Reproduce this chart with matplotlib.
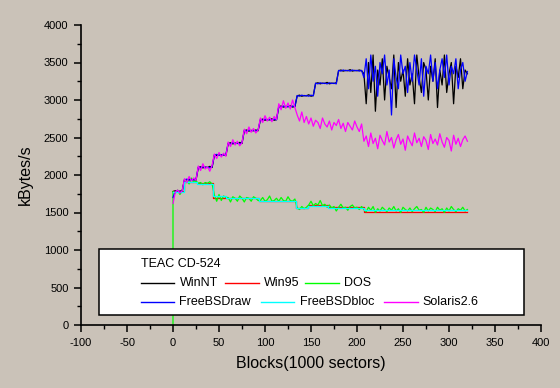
import matplotlib
matplotlib.use("Agg")
import matplotlib.pyplot as plt
from matplotlib.patches import Rectangle
from matplotlib.lines import Line2D
import numpy as np

plt.rcParams['font.family'] = ['Liberation Sans', 'DejaVu Sans']
plt.rcParams['axes.unicode_minus'] = False

BG = '#CAC2B8'
BLOCK_STEP = 2.5  # kBlocks between samples

# throughput in kBytes/s, one sample every 2.5 kBlocks from 0 to 320
winnt = [1780, 1790, 1775, 1785, 1790,
         1940, 1930, 1945, 1935, 1940, 1930,
         2100, 2110, 2095, 2105, 2100, 2115, 2100,
         2270, 2260, 2275, 2265, 2270, 2260,
         2420, 2430, 2415, 2425, 2420, 2435, 2420,
         2590, 2600, 2585, 2595, 2590, 2600, 2590,
         2735, 2745, 2730, 2740, 2735, 2750, 2730, 2740,
         2910, 2920, 2905, 2915, 2910, 2925, 2905, 2915,
         3055, 3065, 3050, 3060, 3055, 3070, 3050, 3060,
         3220, 3230, 3215, 3225, 3220, 3235, 3215, 3225, 3220, 3230,
         3390, 3400, 3385, 3395, 3390, 3405, 3385, 3395, 3390, 3400, 3390,
         3350, 2950, 3500, 3100, 3600, 2850, 3400, 3200, 3550, 3000,
         3450, 3300, 3150, 3600, 2900, 3500, 3250, 3400, 3050, 3550,
         3200, 3350, 2950, 3600, 3300, 3100, 3500, 3400, 3000, 3450,
         3250, 3550, 2900, 3400, 3200, 3600, 3100, 3350, 3500, 2950,
         3450, 3300, 3550, 3150, 3400, 3350]

freebsd_raw = [1700, 1780, 1790, 1775, 1785,
               1935, 1945, 1930, 1940, 1935, 1945,
               2105, 2095, 2110, 2100, 2105, 2095, 2110,
               2265, 2275, 2260, 2270, 2265, 2275,
               2425, 2415, 2430, 2420, 2425, 2415, 2430,
               2595, 2585, 2600, 2590, 2595, 2585, 2600,
               2740, 2730, 2745, 2735, 2740, 2730, 2745, 2735,
               2915, 2905, 2920, 2910, 2915, 2905, 2920, 2910,
               3060, 3050, 3065, 3055, 3060, 3050, 3065, 3055,
               3225, 3215, 3230, 3220, 3225, 3215, 3230, 3220, 3225, 3215,
               3395, 3385, 3400, 3390, 3395, 3385, 3400, 3390, 3395, 3385, 3395,
               3300, 3550, 3150, 3600, 3250, 3450, 3050, 3500, 3350, 3600,
               3200, 3400, 2800, 3550, 3300, 3150, 3600, 3350, 3450, 3100,
               3500, 3250, 3600, 3400, 3200, 3550, 3050, 3450, 3350, 3600,
               3250, 3500, 3150, 3400, 3550, 3300, 3600, 3200, 3450, 3350,
               3550, 3150, 3400, 3500, 3250, 3380]

solaris = [1620, 1770, 1800, 1760, 1790,
           1950, 1900, 1980, 1920, 1960, 1930,
           2120, 2060, 2150, 2080, 2110, 2050, 2130,
           2280, 2220, 2300, 2240, 2290, 2250,
           2440, 2380, 2470, 2400, 2450, 2390, 2430,
           2610, 2550, 2640, 2570, 2620, 2560, 2600,
           2760, 2700, 2790, 2720, 2770, 2710, 2780, 2740,
           2950, 2870, 2990, 2890, 2960, 2880, 3000, 2900,
           2800, 2720, 2840, 2700, 2780, 2680, 2760, 2650, 2730, 2700,
           2620, 2760, 2680, 2640, 2720, 2600, 2700, 2660, 2740, 2620,
           2690, 2580, 2700, 2650, 2600, 2720, 2640, 2580, 2680,
           2450, 2520, 2380, 2560, 2420, 2490, 2350, 2530, 2460, 2400,
           2580, 2440, 2500, 2360, 2470, 2540, 2410, 2480, 2330, 2520,
           2450, 2390, 2560, 2430, 2490, 2380, 2510, 2460, 2340, 2540,
           2420, 2480, 2400, 2550, 2440, 2370, 2500, 2460, 2320, 2530,
           2410, 2490, 2380, 2470, 2520, 2450]

# DOS starts from zero at block 0
dos = [0,
       1780, 1760, 1800, 1740, 1790,
       1900, 1940, 1880, 1960, 1900, 1920,
       1890, 1900, 1870, 1900, 1890, 1910, 1880,
       1730, 1650, 1740, 1660, 1720, 1700,
       1700, 1640, 1710, 1690, 1650, 1720, 1690, 1640, 1700, 1690, 1650, 1710, 1690, 1660,
       1660, 1700, 1650, 1670, 1720, 1650, 1660, 1690, 1650, 1700, 1660, 1650, 1710, 1660, 1650, 1680,
       1560, 1540, 1580, 1550, 1570,
       1600, 1650, 1590, 1620, 1600, 1660, 1590, 1610,
       1570, 1600, 1560, 1580, 1520, 1570, 1610, 1560, 1570, 1530, 1580, 1600, 1560, 1570, 1540, 1580,
       1540, 1510, 1570, 1530, 1580, 1500, 1550, 1520, 1570, 1540,
       1510, 1560, 1530, 1580, 1520, 1550, 1500, 1570, 1540, 1520,
       1560, 1510, 1550, 1580, 1530, 1540, 1500, 1570, 1520, 1560,
       1540, 1510, 1570, 1530, 1550, 1500, 1560, 1520, 1580, 1540,
       1510, 1550, 1530, 1570, 1520, 1540]

# smooth step-like series: block where a level starts, and its level
win95_x = [0, 12, 26, 44, 94, 134, 147, 168, 208, 320]
win95 = [1785, 1910, 1890, 1695, 1655, 1560, 1595, 1570, 1510, 1510]
bsdbloc_x = [0, 12, 26, 44, 58, 94, 134, 147, 168, 208, 320]
bsdbloc = [1775, 1905, 1885, 1725, 1690, 1650, 1555, 1590, 1565, 1535, 1535]

blocks = np.arange(len(winnt)) * BLOCK_STEP
blocks_dos = np.concatenate([[0.0], np.arange(len(dos) - 1) * BLOCK_STEP])

fig = plt.figure(figsize=(5.6, 3.88), dpi=100, facecolor=BG)
ax = fig.add_axes([81 / 560, 63 / 388, 460 / 560, 300 / 388])
ax.set_facecolor(BG)

lw = 0.9
ax.plot(blocks, winnt, color='black', lw=lw)
ax.plot(win95_x, win95, color='#FF0000', lw=lw, drawstyle='steps-post')
ax.plot(blocks_dos, dos, color='#00FF00', lw=lw)
ax.plot(blocks[:len(freebsd_raw)], freebsd_raw, color='#0000FF', lw=lw)
ax.plot(bsdbloc_x, bsdbloc, color='#00FFFF', lw=lw, drawstyle='steps-post')
ax.plot(blocks[:len(solaris)], solaris, color='#FF00FF', lw=lw)

ax.set_xlim(-100, 400)
ax.set_ylim(0, 4000)
ax.set_xticks(np.arange(-100, 401, 50))
ax.set_xticks(np.arange(-100, 401, 25), minor=True)
ax.set_yticks(np.arange(0, 4001, 500))
ax.set_yticks(np.arange(0, 4001, 250), minor=True)
ax.tick_params(which='major', direction='out', length=5, width=1.1, labelsize=8, pad=4)
ax.tick_params(which='minor', direction='out', length=3, width=1.0)
for s in ['top', 'right']:
    ax.spines[s].set_visible(False)
for s in ['left', 'bottom']:
    ax.spines[s].set_linewidth(1.2)

ax.set_xlabel('Blocks(1000 sectors)', fontsize=11.5, labelpad=6)
ax.set_ylabel('kBytes/s', fontsize=11.5, labelpad=8)

# legend box drawn like the original (entries flow left to right)
ax.add_patch(Rectangle((0.039, 0.033), 0.924, 0.22, transform=ax.transAxes,
                       fc='white', ec='black', lw=1.1, zorder=5, clip_on=False))
ax.text(0.130, 0.203, 'TEAC CD-524', transform=ax.transAxes, fontsize=9,
        va='center', ha='left', zorder=6)
entries = [('WinNT', 'black', 0.130, 0.141),
           ('Win95', '#FF0000', 0.313, 0.141),
           ('DOS', '#00FF00', 0.487, 0.141),
           ('FreeBSDraw', '#0000FF', 0.130, 0.078),
           ('FreeBSDbloc', '#00FFFF', 0.391, 0.078),
           ('Solaris2.6', '#FF00FF', 0.659, 0.078)]
for name, col, x0, y0 in entries:
    ax.add_line(Line2D([x0, x0 + 0.073], [y0, y0], color=col, lw=1.0,
                       transform=ax.transAxes, zorder=6))
    ax.text(x0 + 0.084, y0, name, transform=ax.transAxes, fontsize=9,
            va='center', ha='left', zorder=6)

fig.savefig('out.png', dpi=100, facecolor=BG)
